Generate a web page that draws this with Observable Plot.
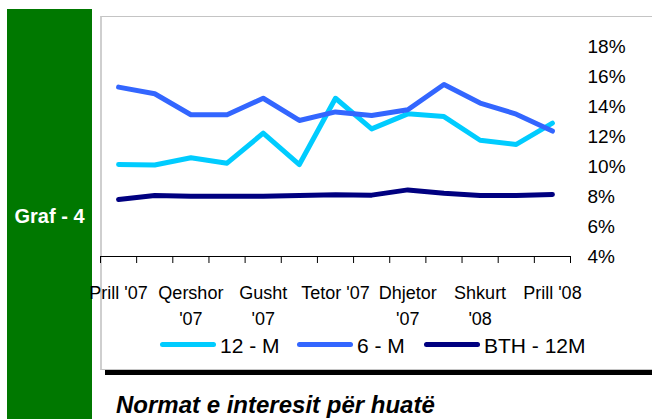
<!DOCTYPE html>
<html><head><meta charset="utf-8">
<script src="https://cdn.jsdelivr.net/npm/d3@7"></script>
<script src="https://cdn.jsdelivr.net/npm/@observablehq/plot@0.6"></script>
<style>
body{margin:0;width:652px;height:419px;position:relative;overflow:hidden;background:#fff;font-family:"Liberation Sans",Arial,sans-serif;}
.abs{position:absolute;}
</style></head><body>
<div class="abs" style="left:7px;top:9px;width:85px;height:410px;background:#007800"></div>
<div class="abs" style="left:7px;width:85px;top:206px;font-size:20px;line-height:20px;font-weight:bold;color:#fff;text-align:center">Graf - 4</div>
<div class="abs" style="left:100px;top:16px;width:560px;height:354px;box-sizing:border-box;border:1px solid #c4c4c4;border-left:2px solid #cfcfcf;"></div>
<div class="abs" style="left:105px;top:370px;width:560px;height:5px;background:#000"></div>
<div id="chart" class="abs" style="left:100px;top:16px"></div>
<div id="legend"></div>
<div class="abs" style="left:116px;top:393px;font-size:24px;line-height:24px;font-weight:bold;font-style:italic;color:#000;white-space:nowrap">Normat e interesit për huatë</div>
<script>
const months = ["Prill '07","Maj '07","Qershor '07","Korrik '07","Gusht '07","Shtator '07","Tetor '07","Nëntor '07","Dhjetor '07","Janar '08","Shkurt '08","Mars '08","Prill '08"];
const tickLabels = ["Prill '07","Qershor\n'07","Gusht\n'07","Tetor '07","Dhjetor\n'07","Shkurt\n'08","Prill '08"];
const tickLabelIndex = [0,2,4,6,8,10,12];
const m12 = [10.13,10.10,10.58,10.22,12.22,10.13,14.55,12.51,13.51,13.33,11.75,11.47,12.89];
const m6  = [15.29,14.85,13.45,13.45,14.55,13.07,13.64,13.40,13.78,15.47,14.23,13.49,12.36];
const bth = [7.80,8.07,8.02,8.02,8.02,8.07,8.12,8.09,8.44,8.22,8.07,8.07,8.13];
const seriesNames = ["12 - M","6 - M","BTH - 12M"];
const seriesColors = ["#00CCFF","#3366FF","#000080"];
const yTicks = [4,6,8,10,12,14,16,18];

const seriesValues = [m12, m6, bth];
const rows = seriesValues.flatMap((vals, s) => vals.map((v, i) => ({i, month: months[i], v, s: seriesNames[s]})));
const boundaries = d3.range(months.length + 1).map(k => k - 0.5);
const labelData = tickLabelIndex.map((i, k) => ({i, label: tickLabels[k]}));

const chart = Plot.plot({
  width: 552, height: 300,
  marginLeft: 0, marginRight: 82, marginTop: 30, marginBottom: 60,
  x: {domain: [-0.5, months.length - 0.5], axis: null},
  y: {domain: [4, 18], axis: null},
  color: {domain: seriesNames, range: seriesColors},
  style: {fontFamily: "Liberation Sans, Arial, sans-serif", color: "#000", background: "transparent", overflow: "visible"},
  marks: [
    Plot.axisY(yTicks, {anchor: "right", tickSize: 0, tickPadding: 17, tickFormat: d => d + "%", fontSize: 19, label: null}),
    Plot.axisX(boundaries, {anchor: "bottom", tickSize: 7, tickFormat: () => "", label: null, stroke: "#000"}),
    Plot.ruleY([4], {stroke: "#000"}),
    Plot.text(labelData, {x: "i", text: "label", frameAnchor: "bottom", lineAnchor: "top", dy: 24, fontSize: 18, lineHeight: 1.45, fill: "#000"}),
    Plot.line(rows, {x: "i", y: "v", z: "s", stroke: "s", strokeWidth: 5, strokeLinecap: "round", strokeLinejoin: "round"})
  ]
});
document.getElementById("chart").appendChild(chart);

const legendPos = [{sw: 160, tx: 220}, {sw: 297, tx: 357}, {sw: 424, tx: 484}];
const lg = document.getElementById("legend");
seriesNames.forEach((name, k) => {
  const sw = document.createElement("div");
  sw.className = "abs";
  sw.style.cssText = `left:${legendPos[k].sw}px;top:342px;width:56px;height:5px;border-radius:3px;background:${seriesColors[k]}`;
  lg.appendChild(sw);
  const t = document.createElement("div");
  t.className = "abs";
  t.style.cssText = `left:${legendPos[k].tx}px;top:335px;font-size:21px;line-height:21px;color:#000;white-space:nowrap`;
  t.textContent = name;
  lg.appendChild(t);
});
</script>
</body></html>
